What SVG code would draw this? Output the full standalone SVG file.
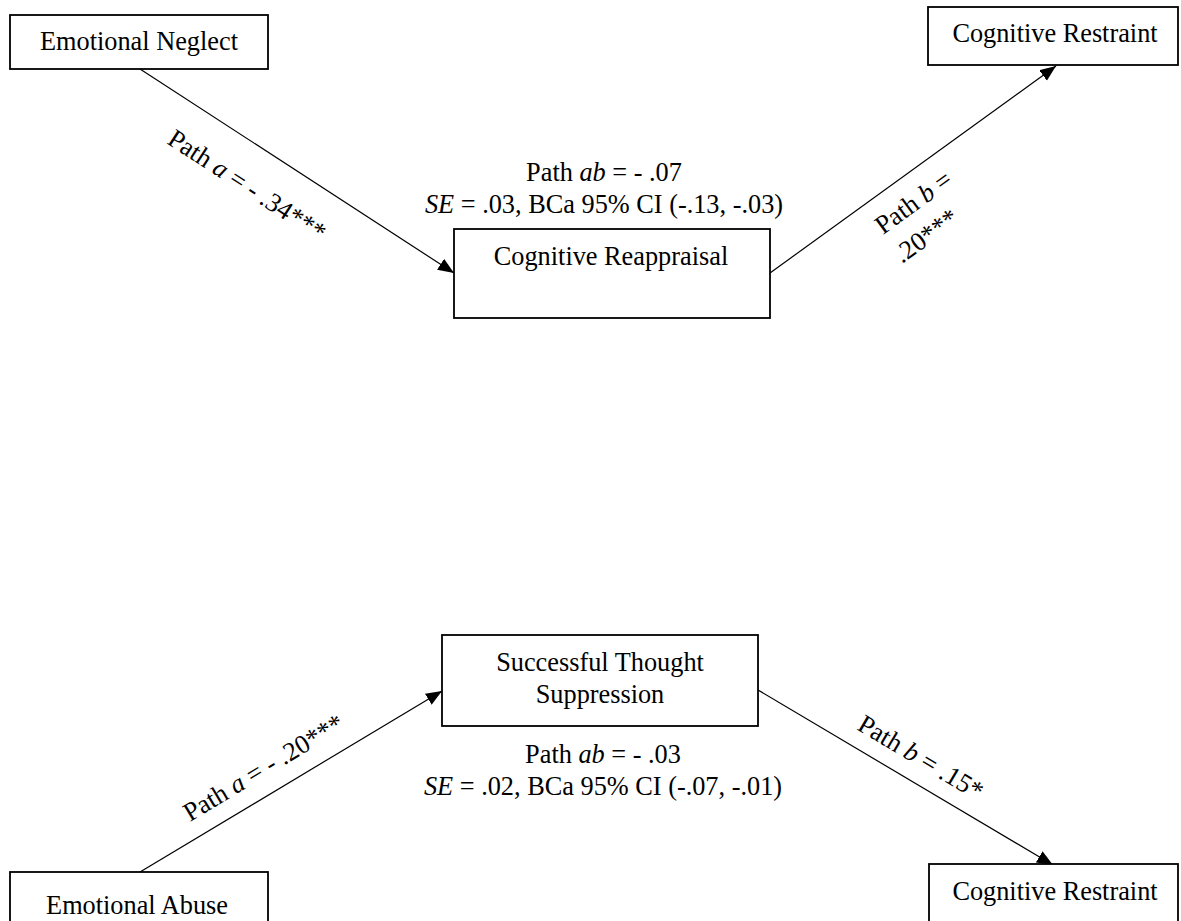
<svg xmlns="http://www.w3.org/2000/svg" width="1181" height="921" viewBox="0 0 1181 921">
<style>
text{font-family:"Liberation Serif","Times New Roman",serif;font-size:26.3px;fill:#000}
.c{text-anchor:middle}
.box{fill:#fff;stroke:#000;stroke-width:1.8}
.ln{fill:none;stroke:#000;stroke-width:1.2;marker-end:url(#ah)}
</style>
<defs>
<marker id="ah" markerUnits="userSpaceOnUse" markerWidth="17" markerHeight="14" refX="16" refY="6.5" orient="auto">
<path d="M0,0 L16,6.5 L0,13 z" fill="#000"/>
</marker>
</defs>
<rect width="1181" height="921" fill="#fff"/>
<g id="connectors">
<line class="ln" x1="140" y1="69" x2="454" y2="273"/>
<line class="ln" x1="770" y1="273" x2="1056" y2="66"/>
<line class="ln" x1="140" y1="872" x2="442" y2="691"/>
<line class="ln" x1="758" y1="690" x2="1053" y2="865"/>
</g>
<g id="labels">
<text transform="translate(166,143) rotate(33)">Path <tspan font-style="italic">a</tspan> = - .34***</text>
<text transform="translate(883,235) rotate(-36)">Path <tspan font-style="italic">b</tspan> =</text>
<text transform="translate(902,264) rotate(-36)">.20***</text>
<text transform="translate(190,822) rotate(-31)">Path <tspan font-style="italic">a</tspan> = - .20***</text>
<text transform="translate(856,729) rotate(30.7)">Path <tspan font-style="italic">b</tspan> = .15*</text>
<text class="c" x="604" y="181">Path <tspan font-style="italic">ab</tspan> = - .07</text>
<text class="c" x="604" y="213"><tspan font-style="italic">SE</tspan> = .03, BCa 95% CI (-.13, -.03)</text>
<text class="c" x="603" y="763">Path <tspan font-style="italic">ab</tspan> = - .03</text>
<text class="c" x="603" y="795"><tspan font-style="italic">SE</tspan> = .02, BCa 95% CI (-.07, -.01)</text>
</g>
<g id="emotional-neglect">
<rect class="box" x="10" y="15" width="258" height="54"/>
<text class="c" x="139" y="50">Emotional Neglect</text>
</g>
<g id="cognitive-restraint-top">
<rect class="box" x="928" y="7" width="250" height="58"/>
<text class="c" x="1055" y="42">Cognitive Restraint</text>
</g>
<g id="cognitive-reappraisal">
<rect class="box" x="454" y="229" width="316" height="89"/>
<text class="c" x="611" y="265">Cognitive Reappraisal</text>
</g>
<g id="successful-thought-suppression">
<rect class="box" x="442" y="635" width="316" height="91"/>
<text class="c" x="600" y="671">Successful Thought</text>
<text class="c" x="600" y="703">Suppression</text>
</g>
<g id="emotional-abuse">
<rect class="box" x="10" y="872" width="258" height="70"/>
<text class="c" x="137" y="914">Emotional Abuse</text>
</g>
<g id="cognitive-restraint-bottom">
<rect class="box" x="929" y="864" width="249" height="70"/>
<text class="c" x="1055" y="900">Cognitive Restraint</text>
</g>
</svg>
